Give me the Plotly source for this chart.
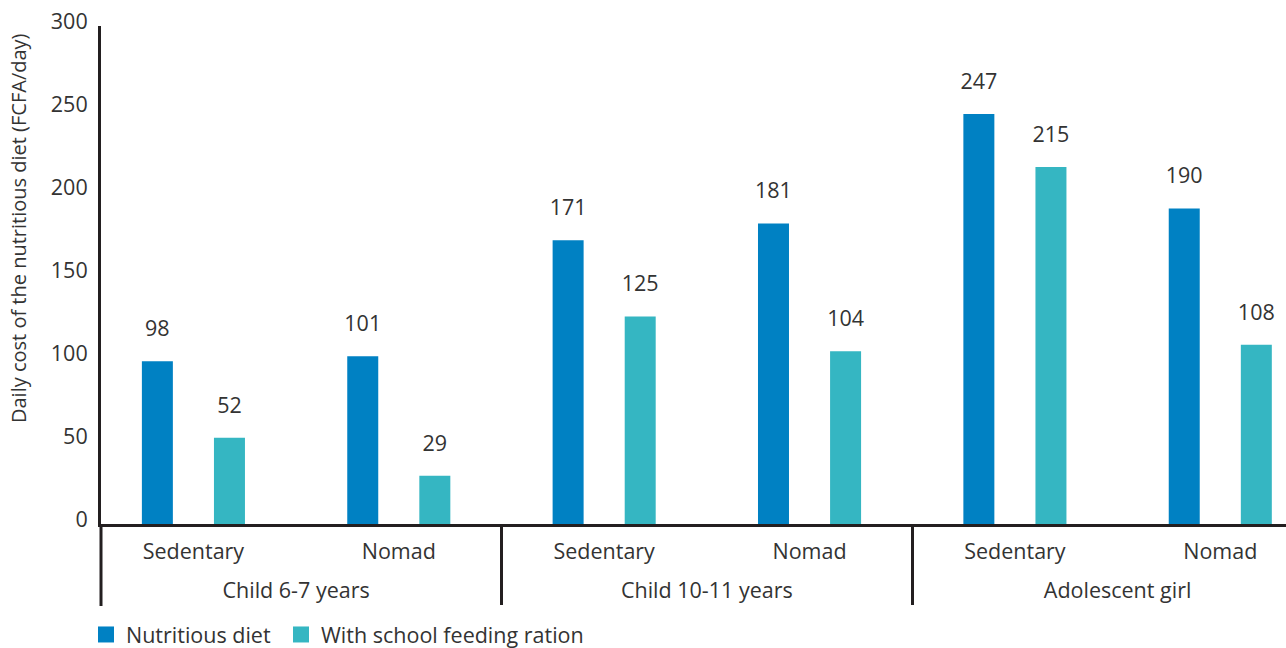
import plotly.graph_objects as go

# Population groups and living patterns (two-level category axis)
groups = ["Child 6-7 years", "Child 6-7 years",
          "Child 10-11 years", "Child 10-11 years",
          "Adolescent girl", "Adolescent girl"]
lifestyles = ["Sedentary", "Nomad", "Sedentary", "Nomad", "Sedentary", "Nomad"]

# Daily cost of a nutritious diet, FCFA/day
nutritious_diet = [98, 101, 171, 181, 247, 190]
with_school_feeding = [52, 29, 125, 104, 215, 108]

series_names = ["Nutritious diet", "With school feeding ration"]
series_colors = ["#0081C3", "#35B6C2"]

y_ticks = [0, 50, 100, 150, 200, 250, 300]

FONT = "Open Sans"
FS = 21.5
TEXT = "#333333"
LINE = "#231F20"
GAP = 0.298

# Taller (invisible) padding around the inner labels so the outer
# group row sits a little further below the axis line
pad = "<span style='font-size:32px'>\u00a0</span>"
lifestyle_labels = [pad + s + pad for s in lifestyles]
x_cats = [groups, lifestyle_labels]

fig = go.Figure()

series = [nutritious_diet, with_school_feeding]

for name, vals, col in zip(series_names, series, series_colors):
    fig.add_trace(go.Bar(
        x=x_cats,
        y=vals,
        name=name,
        marker=dict(color=col, line=dict(width=0)),
        showlegend=False,
        hoverinfo="skip",
    ))

# Value labels above each bar (invisible markers give the text its lift)
for name, vals in zip(series_names, series):
    fig.add_trace(go.Scatter(
        x=x_cats,
        y=vals,
        mode="markers+text",
        text=[str(v) for v in vals],
        textposition="top center",
        textfont=dict(family=FONT, size=FS, color=TEXT),
        marker=dict(size=30, color="rgba(0,0,0,0)"),
        cliponaxis=False,
        showlegend=False,
        hoverinfo="skip",
    ))

# Legend swatches, one legend box per series
for i, (name, col) in enumerate(zip(series_names, series_colors)):
    fig.add_trace(go.Scatter(
        x=[None], y=[None], mode="markers", name=name,
        marker=dict(symbol="square", size=16, color=col),
        xaxis="x2", yaxis="y2", showlegend=True,
        legend="legend" if i == 0 else "legend2",
    ))

legend_common = dict(
    orientation="h",
    xref="container", yref="container",
    xanchor="left",
    y=1 - 614 / 648, yanchor="top",
    font=dict(family=FONT, size=FS, color=TEXT),
    itemsizing="trace",
    bgcolor="rgba(0,0,0,0)",
)

fig.update_layout(
    width=1286, height=648,
    margin=dict(l=101, r=0, t=26, b=124),
    paper_bgcolor="white", plot_bgcolor="white",
    barmode="group", bargap=GAP, bargroupgap=0.57,
    scattermode="group", scattergap=GAP,
    font=dict(family=FONT, size=FS, color=TEXT),
    xaxis=dict(
        type="multicategory",
        range=[-0.45, 5.32],
        showline=True, linewidth=3, linecolor=LINE,
        ticks="", showgrid=False, zeroline=False,
        showdividers=True, dividercolor=LINE, dividerwidth=3,
        tickfont=dict(family=FONT, size=FS, color=TEXT),
        ticklabelstandoff=6,
    ),
    yaxis=dict(
        range=[0, 300],
        tickvals=y_ticks,
        showline=True, linewidth=3, linecolor=LINE,
        ticks="", showgrid=False, zeroline=False,
        tickfont=dict(family=FONT, size=FS, color=TEXT),
        ticklabelstandoff=6,
        ticklabelshift=-5,
    ),
    xaxis2=dict(overlaying="x", visible=False, range=[0, 1]),
    yaxis2=dict(overlaying="y", visible=False, range=[0, 1]),
    legend=dict(x=86 / 1286, **legend_common),
    legend2=dict(x=281 / 1286, **legend_common),
    annotations=[dict(
        text="Daily cost of the nutritious diet (FCFA/day)",
        xref="paper", yref="paper",
        x=(18 - 101) / 1185, y=(524 - 228) / 498,
        xanchor="center", yanchor="middle",
        textangle=-90, showarrow=False,
        font=dict(family=FONT, size=20, color=TEXT),
    )],
    shapes=[dict(
        type="line", xref="paper", yref="paper",
        x0=0, x1=0, y0=0, y1=(524 - 606) / 498,
        line=dict(color=LINE, width=3),
    )],
)

fig.write_html("out.html")
